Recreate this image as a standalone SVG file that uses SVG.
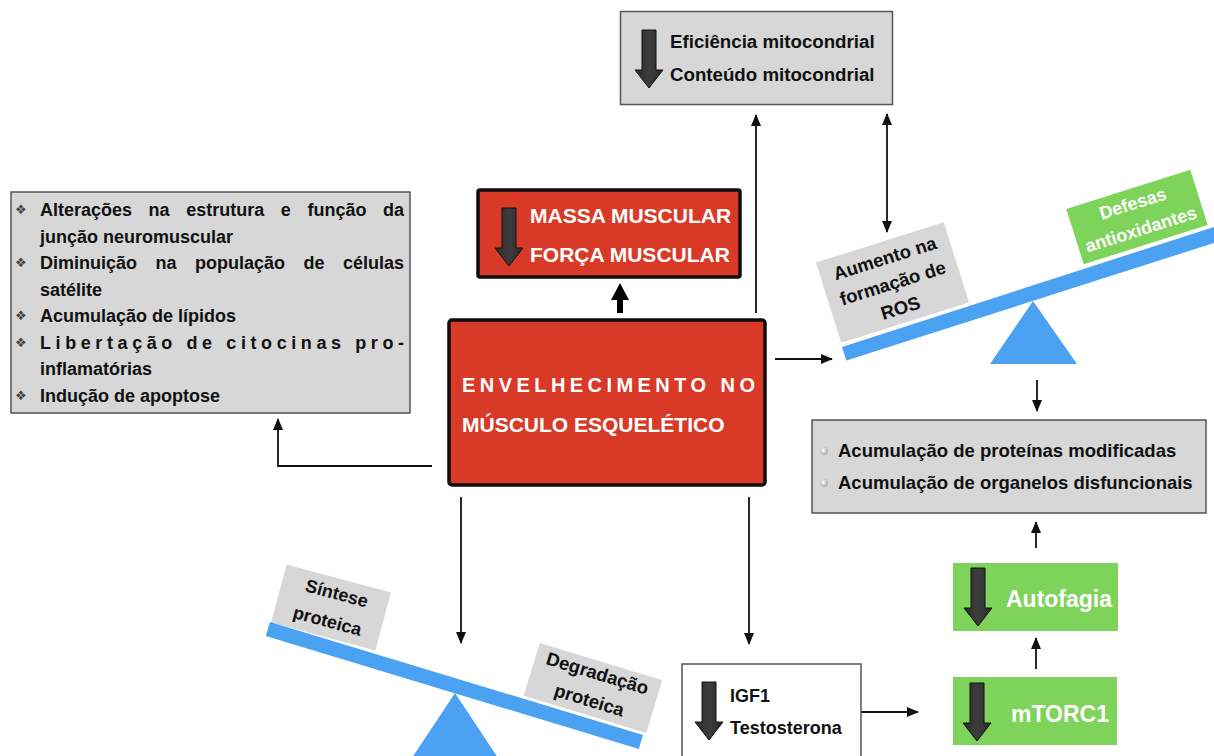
<svg xmlns="http://www.w3.org/2000/svg" width="1214" height="756" viewBox="0 0 1214 756">
<style>
  text { font-family: "Liberation Sans", Arial, sans-serif; font-weight: bold; }
  .dk { fill: #111; }
  .wh { fill: #fff; }
  .gray { fill: #d7d7d7; stroke: #555; stroke-width: 1.5; }
  .redbox { fill: #d93a28; stroke: #0d0d0d; stroke-width: 3.5; stroke-linejoin: round; }
  .green { fill: #7ed35a; }
  .blue { fill: #4ba2f2; }
  .tag { fill: #d7d7d7; }
  .conn { stroke: #111; stroke-width: 1.8; fill: none; }
  .bul { font-family: "DejaVu Sans", sans-serif; font-weight: normal; font-size: 13px; fill: #444; }
</style>
<defs>
  <marker id="ah" markerUnits="userSpaceOnUse" markerWidth="12" markerHeight="10" viewBox="0 0 12 10" refX="11" refY="5" orient="auto-start-reverse">
    <path d="M0,0 L12,5 L0,10 Z" fill="#111"/>
  </marker>
  <linearGradient id="ag" x1="0" y1="0" x2="1" y2="0">
    <stop offset="0" stop-color="#2a2a2a"/>
    <stop offset="0.5" stop-color="#3d3d3d"/>
    <stop offset="1" stop-color="#2a2a2a"/>
  </linearGradient>
  <path id="bigArrow" d="M7,0 H21 V40 H28 L14,58 L0,40 H7 Z" fill="url(#ag)" stroke="#111" stroke-width="1"/>
  <radialGradient id="dot" cx="0.4" cy="0.4" r="0.6">
    <stop offset="0" stop-color="#fff"/>
    <stop offset="1" stop-color="#aaa"/>
  </radialGradient>
</defs>

<g id="connectors">
  <line class="conn" x1="756" y1="313" x2="756" y2="115" marker-end="url(#ah)"/>
  <line class="conn" x1="887" y1="114" x2="887" y2="232" marker-start="url(#ah)" marker-end="url(#ah)"/>
  <line class="conn" x1="775" y1="359" x2="832" y2="359" marker-end="url(#ah)"/>
  <polyline class="conn" points="432,466 278,466 278,419" marker-end="url(#ah)"/>
  <line class="conn" x1="461" y1="497" x2="461" y2="643" marker-end="url(#ah)"/>
  <line class="conn" x1="749" y1="497" x2="749" y2="644" marker-end="url(#ah)"/>
  <line class="conn" x1="1037" y1="380" x2="1037" y2="411" marker-end="url(#ah)"/>
  <line class="conn" x1="1036" y1="548" x2="1036" y2="522" marker-end="url(#ah)"/>
  <line class="conn" x1="1036" y1="669" x2="1036" y2="638" marker-end="url(#ah)"/>
  <line class="conn" x1="860" y1="712" x2="918" y2="712" marker-end="url(#ah)"/>
  <path d="M617,313 V300 H611 L620,283 L629,300 H623 V313 Z" fill="#000"/>
</g>

<g id="mito">
  <rect class="gray" x="620.5" y="11.5" width="272" height="93"/>
  <use href="#bigArrow" x="635" y="30"/>
  <text class="dk" x="670" y="48" font-size="18.7">Eficiência mitocondrial</text>
  <text class="dk" x="670" y="81" font-size="18.7">Conteúdo mitocondrial</text>
</g>

<g id="alteracoes">
  <rect class="gray" x="11" y="192" width="399" height="221"/>
  <text class="bul" x="15" y="214">❖</text>
  <text class="bul" x="15" y="267">❖</text>
  <text class="bul" x="15" y="320">❖</text>
  <text class="bul" x="15" y="347">❖</text>
  <text class="bul" x="15" y="400">❖</text>
  <text class="dk" font-size="18" y="216"><tspan x="40">Alterações</tspan><tspan x="148.6">na</tspan><tspan x="186.2">estrutura</tspan><tspan x="280.8">e</tspan><tspan x="307.4">função</tspan><tspan x="383">da</tspan></text>
  <text class="dk" font-size="18" x="40" y="242.5">junção neuromuscular</text>
  <text class="dk" font-size="18" y="269"><tspan x="40">Diminuição</tspan><tspan x="155.5">na</tspan><tspan x="195">população</tspan><tspan x="303.5">de</tspan><tspan x="343">células</tspan></text>
  <text class="dk" font-size="18" x="40" y="295.5">satélite</text>
  <text class="dk" font-size="18" x="40" y="322">Acumulação de lípidos</text>
  <text class="dk" font-size="18" x="40" y="348.5" textLength="364" lengthAdjust="spacing">Libertação de citocinas pro-</text>
  <text class="dk" font-size="18" x="40" y="375">inflamatórias</text>
  <text class="dk" font-size="18" x="40" y="401.5">Indução de apoptose</text>
</g>

<g id="massa">
  <rect class="redbox" x="478" y="190" width="262" height="87" rx="2"/>
  <use href="#bigArrow" x="495" y="208"/>
  <text class="wh" x="530" y="223" font-size="21">MASSA MUSCULAR</text>
  <text class="wh" x="530" y="262" font-size="21">FORÇA MUSCULAR</text>
</g>

<g id="envelhecimento">
  <rect class="redbox" x="449" y="320" width="316" height="165" rx="3"/>
  <text class="wh" x="462" y="392" font-size="20" textLength="293" lengthAdjust="spacing">ENVELHECIMENTO NO</text>
  <text class="wh" x="462" y="432" font-size="21">MÚSCULO ESQUELÉTICO</text>
</g>

<g id="ros-balanca">
  <g transform="translate(892.5,282.5) rotate(-17.5)">
    <rect class="tag" x="-67" y="-42" width="134" height="84"/>
    <text class="dk" font-size="18.5" text-anchor="middle" y="-19">Aumento na</text>
    <text class="dk" font-size="18.5" text-anchor="middle" y="7">formação de</text>
    <text class="dk" font-size="18.5" text-anchor="middle" y="33">ROS</text>
  </g>
  <g transform="translate(1137,217) rotate(-17.5)">
    <rect class="green" x="-65" y="-29" width="130" height="58"/>
    <text class="wh" font-size="18" text-anchor="middle" y="-8">Defesas</text>
    <text class="wh" font-size="18" text-anchor="middle" y="19">antioxidantes</text>
  </g>
  <polygon class="blue" points="842,347 1220,225 1220,241 846.4,360.6"/>
  <polygon class="blue" points="1033,301 1077,364 990,364"/>
</g>

<g id="acumulacao">
  <rect class="gray" x="812" y="420" width="394" height="93"/>
  <circle cx="824" cy="451" r="4" fill="url(#dot)"/>
  <circle cx="824" cy="483" r="4" fill="url(#dot)"/>
  <text class="dk" x="838" y="457" font-size="18.5">Acumulação de proteínas modificadas</text>
  <text class="dk" x="838" y="489" font-size="18.5">Acumulação de organelos disfuncionais</text>
</g>

<g id="autofagia">
  <rect class="green" x="953" y="563" width="165" height="68"/>
  <use href="#bigArrow" x="964" y="568"/>
  <text class="wh" x="1006" y="607" font-size="23">Autofagia</text>
</g>

<g id="mtorc1">
  <rect class="green" x="953" y="677" width="164" height="68"/>
  <use href="#bigArrow" x="963" y="683"/>
  <text class="wh" x="1011" y="722" font-size="23">mTORC1</text>
</g>

<g id="igf1">
  <rect x="682" y="664" width="179" height="110" fill="#fff" stroke="#555" stroke-width="1.5"/>
  <use href="#bigArrow" x="695" y="682"/>
  <text class="dk" x="730" y="702" font-size="18">IGF1</text>
  <text class="dk" x="730" y="734" font-size="18">Testosterona</text>
</g>

<g id="proteica-balanca">
  <g transform="translate(331,607.5) rotate(15)">
    <rect class="tag" x="-54" y="-30" width="108" height="60"/>
    <text class="dk" font-size="18" text-anchor="middle" x="2" y="-9">Síntese</text>
    <text class="dk" font-size="18" text-anchor="middle" y="20">proteica</text>
  </g>
  <g transform="translate(593,688) rotate(16.9)">
    <rect class="tag" x="-64" y="-27.5" width="128" height="55"/>
    <text class="dk" font-size="18.5" text-anchor="middle" y="-9">Degradação</text>
    <text class="dk" font-size="18.5" text-anchor="middle" y="19">proteica</text>
  </g>
  <polygon class="blue" points="455,693 508,773 402,773"/>
  <polygon class="blue" points="270,622 643,735 638.8,748.9 265.8,635.9"/>
</g>
</svg>
